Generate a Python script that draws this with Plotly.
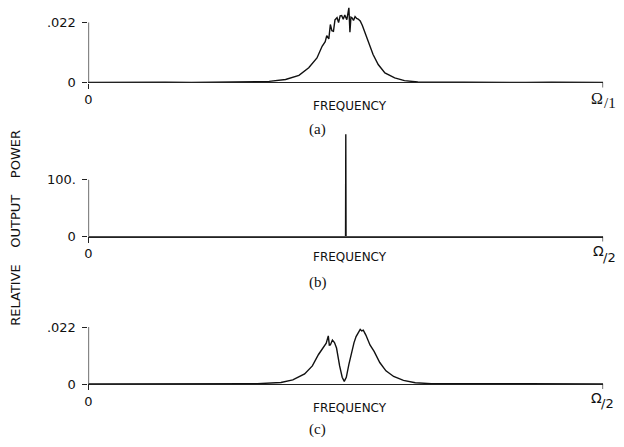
import plotly.graph_objects as go

W, H = 624, 447

# ---------------- data (normalised frequency 0..1) ----------------
freq_a = [0.0, 0.05, 0.10, 0.15, 0.20, 0.25, 0.30, 0.319, 0.351, 0.383, 0.409, 0.428, 0.444,
          0.454, 0.460, 0.463, 0.467, 0.470, 0.473, 0.476, 0.479, 0.483, 0.486, 0.489, 0.492,
          0.495, 0.498, 0.502, 0.504, 0.506, 0.508, 0.510, 0.512, 0.515, 0.518, 0.521, 0.524,
          0.528, 0.532, 0.537, 0.544, 0.553, 0.563, 0.576, 0.595, 0.614, 0.640, 0.70, 0.75,
          0.80, 0.85, 0.90, 0.95, 1.0]
power_a = [0.0, 0.0001, 0.0, 0.0001, 0.0, 0.0001, 0.0001, 0.0001, 0.0004, 0.0011, 0.0026,
           0.0054, 0.0090, 0.0133, 0.0150, 0.0172, 0.0160, 0.0213, 0.0190, 0.0188, 0.0230,
           0.0238, 0.0220, 0.0245, 0.0246, 0.0232, 0.0248, 0.0231, 0.0262, 0.0274, 0.0185,
           0.0240, 0.0238, 0.0228, 0.0242, 0.0235, 0.0233, 0.0226, 0.0210, 0.0183, 0.0146,
           0.0103, 0.0066, 0.0035, 0.0017, 0.0007, 0.0002, 0.0001, 0.0, 0.0001, 0.0, 0.0001,
           0.0, 0.0]

freq_b = [0.0, 0.10, 0.20, 0.30, 0.40, 0.498, 0.4995, 0.5, 0.5005, 0.502, 0.60, 0.70, 0.80,
          0.90, 1.0]
power_b = [0.0, 0.0, 0.0, 0.0, 0.0, 0.0, 0.0, 180.0, 0.0, 0.0, 0.0, 0.0, 0.0, 0.0, 0.0]

freq_c = [0.0, 0.10, 0.20, 0.30, 0.328, 0.374, 0.397, 0.420, 0.435, 0.447, 0.455, 0.460,
          0.462, 0.466, 0.468, 0.470, 0.474, 0.478, 0.482, 0.488, 0.493, 0.497, 0.501, 0.506,
          0.512, 0.516, 0.520, 0.524, 0.528, 0.531, 0.534, 0.539, 0.543, 0.547, 0.555, 0.566,
          0.578, 0.593, 0.612, 0.635, 0.666, 0.75, 0.85, 1.0]
power_c = [0.0, 0.0, 0.0001, 0.0, 0.0001, 0.0006, 0.0016, 0.0039, 0.0070, 0.0114, 0.0139,
           0.0150, 0.0158, 0.0186, 0.0150, 0.0151, 0.0170, 0.0160, 0.0139, 0.0070, 0.0026,
           0.0010, 0.0026, 0.0076, 0.0133, 0.0160, 0.0183, 0.0195, 0.0211, 0.0205, 0.0208,
           0.0189, 0.0170, 0.0151, 0.0126, 0.0083, 0.0051, 0.0029, 0.0014, 0.0005, 0.0001,
           0.0, 0.0001, 0.0]

top_ticks = [0.022, 100.0, 0.022]
top_text = [".022", "100.", ".022"]
omega_div = ["/1", "/2", "/2"]
panel_labels = ["(a)", "(b)", "(c)"]
y_ranges = [0.030, 200.0, 0.030]

# ---------------- layout in pixels ----------------
x_left, x_right = 85, 603
zero_px = [84, 241, 391]
top_px = [23, 183, 333]
freq_px = [108, 262, 415]
label_px = [132, 288, 437]
omega_px = [(597, 100), (598, 256), (596, 405)]

fig = go.Figure()
series = [(freq_a, power_a), (freq_b, power_b), (freq_c, power_c)]
for i, (fx, py) in enumerate(series):
    sfx = "" if i == 0 else str(i + 1)
    fig.add_trace(go.Scatter(x=fx, y=py, mode="lines",
                             line=dict(color="#111", width=1.4),
                             xaxis="x" + sfx, yaxis="y" + sfx,
                             showlegend=False, hoverinfo="skip"))

dejavu = "DejaVu Sans"
serif = "Liberation Serif"
ink = "#111"
layout = dict(width=W, height=H, margin=dict(l=0, r=0, t=0, b=0),
              paper_bgcolor="white", plot_bgcolor="white", showlegend=False)
shapes = []
annotations = []


def note(text, px, py, size, family=dejavu, **kw):
    d = dict(text=text, xref="paper", yref="paper", x=px / W, y=1 - py / H,
             xanchor="center", yanchor="middle", showarrow=False,
             font=dict(family=family, size=size, color=ink))
    d.update(kw)
    annotations.append(d)


for i in range(3):
    sfx = "" if i == 0 else str(i + 1)
    z, t = zero_px[i], top_px[i]
    px_per_unit = (z - t) / top_ticks[i]
    ymax_px = z - y_ranges[i] * px_per_unit
    dom_y = [(H - z) / H, (H - ymax_px) / H]
    layout["xaxis" + sfx] = dict(domain=[x_left / W, x_right / W], range=[0, 1],
                                 anchor="y" + sfx, showline=True, linecolor="#222",
                                 linewidth=1.4, showgrid=False, zeroline=False,
                                 ticks="outside", ticklen=5, tickwidth=1.3, tickcolor="#222",
                                 tickvals=[0], ticktext=["0"],
                                 tickfont=dict(family=dejavu, size=13, color=ink))
    layout["yaxis" + sfx] = dict(domain=dom_y, range=[0, y_ranges[i]], anchor="x" + sfx,
                                 showline=False, showgrid=False, zeroline=False,
                                 ticks="outside", ticklen=5, tickwidth=1.3, tickcolor="#222",
                                 ticklabelstandoff=4,
                                 tickvals=[0, top_ticks[i]], ticktext=["0", top_text[i]],
                                 tickfont=dict(family=dejavu, size=13, color=ink))
    # y axis line (only up to the top tick) and end tick of the x axis
    shapes.append(dict(type="line", xref="x" + sfx, yref="y" + sfx, x0=0, x1=0,
                       y0=0, y1=top_ticks[i], line=dict(color="#222", width=1.3)))
    shapes.append(dict(type="line", xref="x" + sfx, yref="paper", x0=1, x1=1,
                       y0=(H - z) / H, y1=(H - z - 5) / H,
                       line=dict(color="#222", width=1.3)))
    note("FREQUENCY", 348, freq_px[i], 12)
    note(panel_labels[i], 316, label_px[i], 15, family=serif)
    om_x, om_y = omega_px[i]
    if i == 0:
        note("Ω", om_x, om_y, 16, family=serif)
        note(omega_div[i], om_x + 13, om_y + 5, 15, family=serif)
    else:
        note("Ω", om_x, om_y, 14)
        note(omega_div[i], om_x + 11, om_y + 6, 13)

gap = "\u00a0\u00a0\u00a0\u00a0"
note("RELATIVE" + gap + "OUTPUT" + gap + "POWER", 12, 232, 13, textangle=-90)

layout["shapes"] = shapes
layout["annotations"] = annotations
fig.update_layout(**layout)
fig.write_html("out.html", config={"displayModeBar": False},
               post_script="document.body.style.margin='0px';")
